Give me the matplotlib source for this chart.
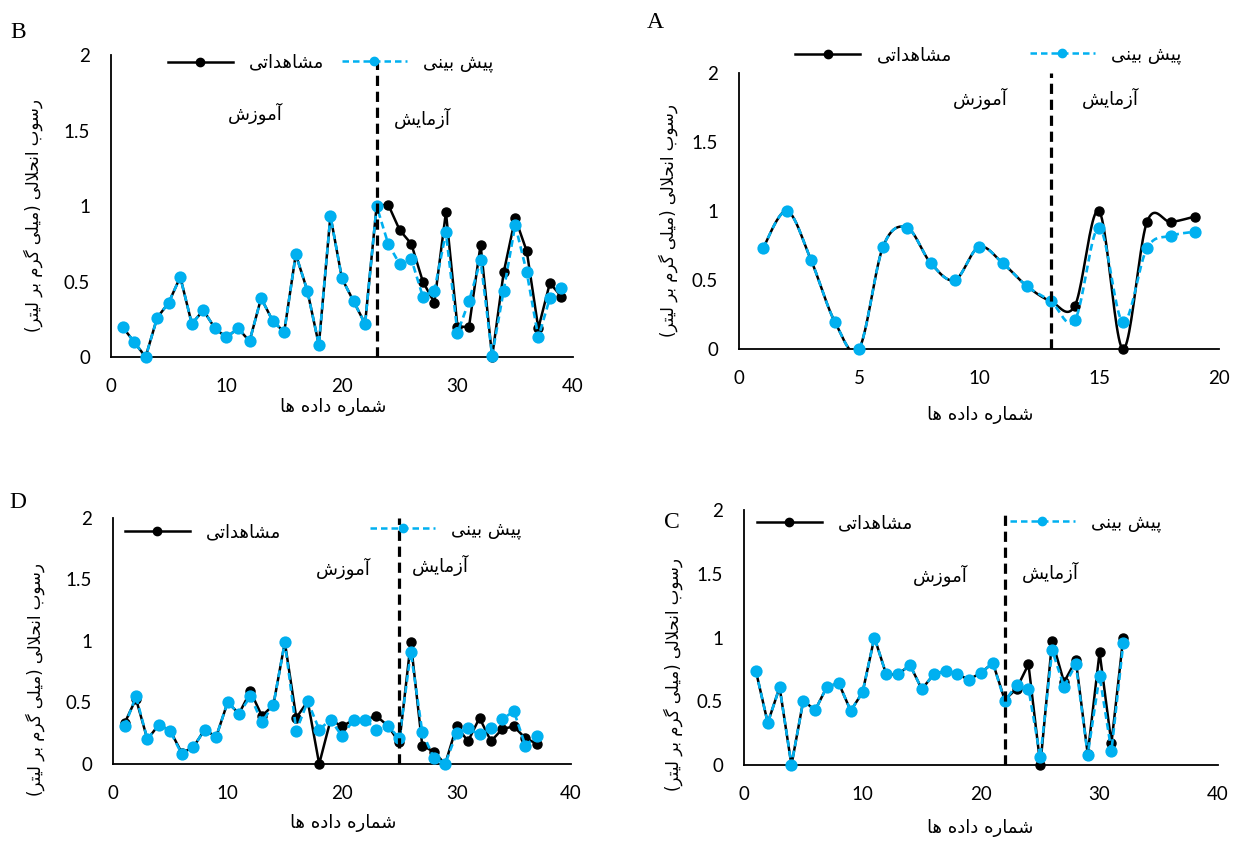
import numpy as np
import matplotlib
matplotlib.use("Agg")
import matplotlib.pyplot as plt
from matplotlib.lines import Line2D

# ---- data ----
b_obs = [0.20, 0.10, 0.00, 0.26, 0.36, 0.53, 0.22, 0.31, 0.19, 0.13, 0.19, 0.105, 0.39, 0.24,
         0.165, 0.68, 0.44, 0.08, 0.935, 0.52, 0.37, 0.22, 1.00,
         1.01, 0.84, 0.75, 0.50, 0.36, 0.96, 0.20, 0.20, 0.745, 0.00, 0.56, 0.92, 0.70, 0.19, 0.49, 0.40]
b_pred = [0.20, 0.10, 0.00, 0.26, 0.36, 0.53, 0.22, 0.31, 0.19, 0.13, 0.19, 0.105, 0.39, 0.24,
          0.165, 0.68, 0.44, 0.08, 0.935, 0.52, 0.37, 0.22, 1.00,
          0.75, 0.615, 0.65, 0.40, 0.44, 0.825, 0.16, 0.37, 0.64, 0.01, 0.44, 0.875, 0.56, 0.13, 0.39, 0.46]
b_split = 23

a_obs = [0.73, 1.00, 0.645, 0.195, 0.00, 0.74, 0.88, 0.62, 0.50, 0.74, 0.62, 0.455, 0.345,
         0.315, 1.00, 0.00, 0.92, 0.92, 0.96]
a_pred = [0.73, 1.00, 0.645, 0.195, 0.00, 0.74, 0.88, 0.62, 0.50, 0.74, 0.62, 0.455, 0.345,
          0.21, 0.88, 0.195, 0.73, 0.82, 0.85]
a_split = 13

d_obs = [0.33, 0.53, 0.20, 0.32, 0.27, 0.09, 0.135, 0.28, 0.22, 0.50, 0.41, 0.59, 0.39, 0.48,
         0.99, 0.375, 0.51, 0.00, 0.36, 0.305, 0.36, 0.36, 0.39, 0.31, 0.175,
         0.99, 0.15, 0.10, 0.00, 0.305, 0.185, 0.375, 0.185, 0.285, 0.305, 0.21, 0.165]
d_pred = [0.305, 0.55, 0.20, 0.32, 0.265, 0.08, 0.135, 0.28, 0.22, 0.50, 0.41, 0.55, 0.34, 0.48,
          0.99, 0.27, 0.51, 0.28, 0.36, 0.225, 0.36, 0.36, 0.28, 0.31, 0.21,
          0.91, 0.26, 0.05, 0.00, 0.25, 0.29, 0.24, 0.29, 0.365, 0.43, 0.15, 0.23]
d_split = 25

c_obs = [0.737, 0.33, 0.61, 0.00, 0.505, 0.43, 0.615, 0.64, 0.425, 0.57, 1.00, 0.71, 0.71, 0.785,
         0.595, 0.71, 0.74, 0.71, 0.67, 0.725, 0.80, 0.51,
         0.60, 0.79, 0.00, 0.975, 0.65, 0.82, 0.085, 0.885, 0.17, 1.00]
c_pred = [0.737, 0.33, 0.61, 0.00, 0.505, 0.43, 0.615, 0.64, 0.425, 0.57, 1.00, 0.71, 0.71, 0.785,
          0.595, 0.71, 0.74, 0.71, 0.67, 0.725, 0.80, 0.50,
          0.63, 0.60, 0.06, 0.90, 0.615, 0.79, 0.08, 0.70, 0.11, 0.955]
c_split = 22

y_ticks = [0, 0.5, 1, 1.5, 2]
y_tick_labels = ["0", "0.5", "1", "1.5", "2"]

lbl_obs = "مشاهداتی"
lbl_pred = "پیش بینی"
lbl_train = "آموزش"
lbl_test = "آزمایش"
lbl_x = "شماره داده ها"
lbl_y = "رسوب انحلالی (میلی گرم بر لیتر)"

BLUE = "#00B0F0"

# ---- minimal Persian shaping (matplotlib has no complex text layout) ----
FORMS = {
    "ا": ("\uFE8D", "\uFE8E", None, None),
    "آ": ("\uFE81", "\uFE82", None, None),
    "ب": ("\uFE8F", "\uFE90", "\uFE91", "\uFE92"),
    "پ": ("\uFB56", "\uFB57", "\uFB58", "\uFB59"),
    "ت": ("\uFE95", "\uFE96", "\uFE97", "\uFE98"),
    "ح": ("\uFEA1", "\uFEA2", "\uFEA3", "\uFEA4"),
    "د": ("\uFEA9", "\uFEAA", None, None),
    "ر": ("\uFEAD", "\uFEAE", None, None),
    "ز": ("\uFEAF", "\uFEB0", None, None),
    "س": ("\uFEB1", "\uFEB2", "\uFEB3", "\uFEB4"),
    "ش": ("\uFEB5", "\uFEB6", "\uFEB7", "\uFEB8"),
    "گ": ("\uFB92", "\uFB93", "\uFB94", "\uFB95"),
    "ل": ("\uFEDD", "\uFEDE", "\uFEDF", "\uFEE0"),
    "م": ("\uFEE1", "\uFEE2", "\uFEE3", "\uFEE4"),
    "ن": ("\uFEE5", "\uFEE6", "\uFEE7", "\uFEE8"),
    "ه": ("\uFEE9", "\uFEEA", "\uFEEB", "\uFEEC"),
    "و": ("\uFEED", "\uFEEE", None, None),
    "ی": ("\uFEEF", "\uFEF0", "\uFEF3", "\uFEF4"),
    "لا": ("\uFEFB", "\uFEFC", None, None),
    "لآ": ("\uFEF5", "\uFEF6", None, None),
}
MIRROR = {"(": ")", ")": "("}


def fa(s):
    units = []
    i = 0
    while i < len(s):
        if s[i] == "ل" and i + 1 < len(s) and s[i + 1] in "اآ":
            units.append(s[i:i + 2])
            i += 2
        else:
            units.append(s[i])
            i += 1
    out = []
    for k, u in enumerate(units):
        if u not in FORMS:
            out.append(MIRROR.get(u, u))
            continue
        iso, fin, ini, med = FORMS[u]
        prev = units[k - 1] if k > 0 else None
        nxt = units[k + 1] if k + 1 < len(units) else None
        jp = prev in FORMS and FORMS[prev][2] is not None
        jn = ini is not None and nxt in FORMS
        if jp and jn:
            out.append(med)
        elif jp:
            out.append(fin)
        elif jn:
            out.append(ini)
        else:
            out.append(iso)
    return "".join(out[::-1])


def smooth(x, y, n=24):
    # excel style bezier smoothing
    x = np.asarray(x, float)
    y = np.asarray(y, float)
    xs, ys = [x[0]], [y[0]]
    t = np.linspace(0, 1, n)[1:]
    for i in range(len(x) - 1):
        p0 = np.array([x[max(i - 1, 0)], y[max(i - 1, 0)]])
        p1 = np.array([x[i], y[i]])
        p2 = np.array([x[i + 1], y[i + 1]])
        p3 = np.array([x[min(i + 2, len(x) - 1)], y[min(i + 2, len(x) - 1)]])
        c1 = p1 + (p2 - p0) / 6
        c2 = p2 - (p3 - p1) / 6
        for tt in t:
            p = (1 - tt) ** 3 * p1 + 3 * (1 - tt) ** 2 * tt * c1 + 3 * (1 - tt) * tt ** 2 * c2 + tt ** 3 * p2
            xs.append(p[0])
            ys.append(p[1])
    return xs, ys


AR = ["DejaVu Sans"]
NUM = ["Lato", "DejaVu Sans"]

fig = plt.figure(figsize=(12.37, 8.44), dpi=100)


def panel(rect, obs, pred, split, xmax, xstep, curved, leg, notes, yl, xl):
    ax = fig.add_axes(rect)
    x = np.arange(1, len(obs) + 1)
    if curved:
        sx, so = smooth(x, obs)
        _, sp = smooth(x, pred)
    else:
        sx, so, sp = x, obs, pred
    ax.plot(sx, so, color="black", lw=1.8, zorder=3)
    ax.plot(x, obs, "o", color="black", ms=6.5, zorder=3, clip_on=False)
    ax.plot(sx, sp, color=BLUE, lw=1.9, ls=(0, (2.6, 1.6)), zorder=4)
    ax.plot(x, pred, "o", color=BLUE, ms=7.8, zorder=4, clip_on=False)
    ax.axvline(split, color="black", lw=2.3, ls=(0, (3.2, 1.8)), zorder=5)

    ax.set_xlim(0, xmax)
    ax.set_ylim(0, 2)
    ax.set_xticks(np.arange(0, xmax + 1, xstep))
    ax.set_yticks(y_ticks)
    ax.set_yticklabels(y_tick_labels)
    for s in ["top", "right"]:
        ax.spines[s].set_visible(False)
    for s in ["left", "bottom"]:
        ax.spines[s].set_linewidth(1.3)
    ax.tick_params(length=0, labelsize=13.5, pad=15)
    for t in ax.get_xticklabels() + ax.get_yticklabels():
        t.set_family(NUM)

    ax.set_xlabel(fa(lbl_x), family=AR, fontsize=13, va="center")
    ax.xaxis.set_label_coords(xl[0], xl[1])
    ax.set_ylabel(fa(lbl_y), family=AR, fontsize=12, va="center")
    ax.yaxis.set_label_coords(yl[0], yl[1])

    h1 = Line2D([], [], color="black", lw=1.8, marker="o", ms=6)
    h2 = Line2D([], [], color=BLUE, lw=1.8, ls=(0, (2.6, 1.6)), marker="o", ms=6)
    kw = dict(frameon=False, loc="center left", handlelength=3.6, handletextpad=0.9,
              borderpad=0, borderaxespad=0, prop={"family": AR, "size": 13})
    l1 = ax.legend([h1], [fa(lbl_obs)], bbox_to_anchor=(leg[0], leg[2]), **kw)
    ax.add_artist(l1)
    ax.legend([h2], [fa(lbl_pred)], bbox_to_anchor=(leg[1], leg[3]), **kw)

    ax.text(notes[0], notes[1], fa(lbl_train), transform=ax.transAxes, ha="center",
            va="center", family=AR, fontsize=13)
    ax.text(notes[2], notes[3], fa(lbl_test), transform=ax.transAxes, ha="center",
            va="center", family=AR, fontsize=13)
    return ax


panel([0.0897, 0.577, 0.3735, 0.3578], b_obs, b_pred, b_split, 40, 10, False,
      (0.123, 0.50, 0.974, 0.974), (0.312, 0.808, 0.675, 0.791), (-0.169, 0.47), (0.48, -0.166))
panel([0.5974, 0.5865, 0.388, 0.327], a_obs, a_pred, a_split, 20, 5, True,
      (0.117, 0.606, 1.065, 1.065), (0.502, 0.909, 0.773, 0.909), (-0.148, 0.467), (0.502, -0.239))
panel([0.0914, 0.0948, 0.3703, 0.2915], d_obs, d_pred, d_split, 40, 10, False,
      (0.026, 0.561, 0.943, 0.951), (0.502, 0.797, 0.714, 0.809), (-0.17, 0.345), (0.502, -0.24))
panel([0.6015, 0.0936, 0.3832, 0.3021], c_obs, c_pred, c_split, 40, 10, False,
      (0.027, 0.561, 0.949, 0.949), (0.414, 0.745, 0.646, 0.757), (-0.15, 0.355), (0.498, -0.247))

for lab, px, py in [("B", 18, 33), ("A", 655, 22), ("D", 18, 503), ("C", 672, 522)]:
    fig.text(px / 1237, 1 - py / 844, lab, ha="center", va="center",
             family="Liberation Serif", fontsize=17)

fig.savefig("out.png", dpi=100)
